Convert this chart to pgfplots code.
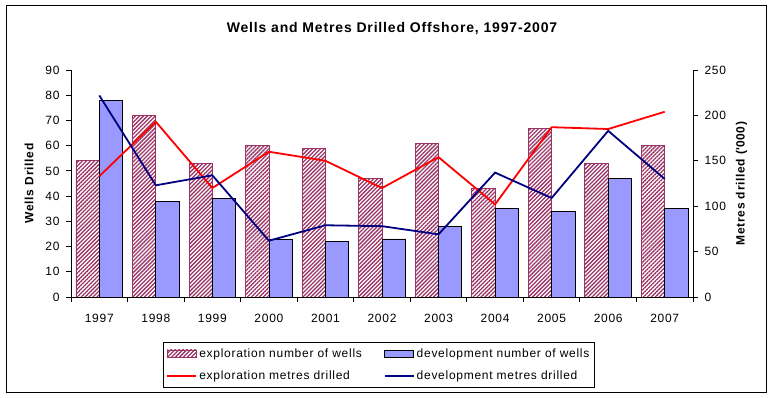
\documentclass[border=0pt]{standalone}
\usepackage{fontspec}
\setmainfont{Liberation Sans}[LetterSpace=6]
\usepackage{pgfplots}
\pgfplotsset{compat=1.18}
\usetikzlibrary{patterns.meta}

\definecolor{plum}{HTML}{993366}
\definecolor{devfill}{HTML}{9999FF}
\definecolor{navy}{HTML}{000080}

\pgfplotsset{
  barleg/.style={legend image code/.code={\draw[##1] (0pt,-3.5pt) rectangle (29pt,3.5pt);}},
  lineleg/.style={legend image code/.code={\draw[##1] (0pt,0pt) -- (29pt,0pt);}},
  chartbase/.style={
    at={(71pt,101pt)}, anchor=south west,
    width=622pt, height=227pt, scale only axis,
    xmin=-0.5, xmax=10.5, ymin=0,
    tick align=outside, major tick length=5pt, minor tick length=5pt,
    axis line style={black, line width=0.9pt},
    every tick/.style={black, line width=0.9pt},
    tick label style={font=\fontsize{12}{14}\selectfont},
    label style={font=\fontsize{12}{14}\selectfont\bfseries},
    /pgf/number format/assume math mode=true,
  },
}

\begin{document}
\begin{tikzpicture}
\useasboundingbox (0pt,0pt) rectangle (771pt,398pt);
\draw[line width=1pt] (6pt,5pt) rectangle (766pt,392pt);
\node[font=\fontsize{14}{16}\selectfont\bfseries] at (392pt,369pt) {Wells and Metres Drilled Offshore, 1997-2007};

% wells (left axis)
\begin{axis}[chartbase,
  ymax=90, ytick={0,10,...,90},
  xtick={0,...,10},
  xticklabels={1997,1998,1999,2000,2001,2002,2003,2004,2005,2006,2007},
  minor xtick={-0.5,0.5,...,10.5},
  major x tick style={draw=none},
  xticklabel style={yshift=-9pt},
  yticklabel style={xshift=-3pt},
  axis x line*=bottom, axis y line*=left,
  ybar=0pt, bar width=23.3pt,
  ylabel={Wells Drilled},
  ylabel style={at={(axis description cs:-0.0675,0.5)}, anchor=center},
  legend columns=2,
  legend cell align=left,
  legend style={at={(axis description cs:0.148,-0.198)}, anchor=north west,
    draw=black, line width=0.9pt,
    font=\fontsize{12}{14}\selectfont,
    inner xsep=3pt, inner ysep=4pt, row sep=8.5pt,
    /tikz/every even column/.append style={column sep=20pt}},
]
\addplot[barleg, draw=plum, line width=0.8pt,
  pattern={Lines[angle=45,distance=2.8pt,line width=1.3pt]}, pattern color=plum]
  coordinates {(0,54) (1,72) (2,53) (3,60) (4,59) (5,47) (6,61) (7,43) (8,67) (9,53) (10,60)};
\addplot[barleg, draw=black, line width=0.8pt, fill=devfill]
  coordinates {(0,78) (1,38) (2,39) (3,23) (4,22) (5,23) (6,28) (7,35) (8,34) (9,47) (10,35)};
\addlegendimage{lineleg, red, line width=1.8pt}
\addlegendimage{lineleg, navy, line width=1.8pt}
\legend{exploration number of wells, development number of wells,
  exploration metres drilled, development metres drilled}
\end{axis}

% metres drilled (right axis)
\begin{axis}[chartbase,
  ymax=250, ytick={0,50,...,250},
  axis x line=none, axis y line*=right,
  yticklabel style={xshift=3pt},
  ylabel={Metres drilled (\textquotesingle 000)},
  ylabel style={at={(axis description cs:1.0778,0.5)}, anchor=center},
]
\addplot[red, line width=1.8pt]
  coordinates {(0,133) (1,193) (2,120) (3,160) (4,150) (5,120) (6,154) (7,102) (8,187) (9,185) (10,204)};
\addplot[navy, line width=1.8pt]
  coordinates {(0,222) (1,123) (2,134) (3,62) (4,79) (5,78) (6,69) (7,137) (8,109) (9,183) (10,130)};
\end{axis}
\end{tikzpicture}
\end{document}
